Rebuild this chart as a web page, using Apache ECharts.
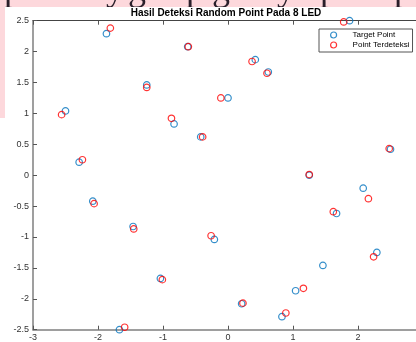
<!DOCTYPE html>
<html><head><meta charset="utf-8">
<script src="https://cdn.jsdelivr.net/npm/echarts@6/dist/echarts.min.js"></script>
<style>
html,body{margin:0;padding:0;background:#fff;overflow:hidden;width:416px;height:342px}
#chart{position:absolute;left:0;top:0;width:416px;height:342px;z-index:1}
.band{position:absolute;background:#fdd8dc}
#clip{position:absolute;left:0;top:0;width:416px;height:7px;overflow:hidden;z-index:2}
.glyph{position:absolute;top:-30px;font:36px/36px 'Liberation Serif',serif;color:#2a1f2a}
</style></head><body>
<div class="band" style="left:0;top:0;width:416px;height:7px"></div>
<div class="band" style="left:0;top:0;width:5px;height:118px"></div>
<div id="clip">
<span class="glyph" style="left:4px">p</span>
<span class="glyph" style="left:106px">y</span>
<span class="glyph" style="left:128px">g</span>
<span class="glyph" style="left:186px">p</span>
<span class="glyph" style="left:212px">g</span>
<span class="glyph" style="left:277px">y</span>
<span class="glyph" style="left:320px">p</span>
<span class="glyph" style="left:394px">p</span>
</div>
<div id="chart"></div>
<script>
const titleText = 'Hasil Deteksi Random Point Pada 8 LED';
const seriesNames = ['Target Point', 'Point Terdeteksi'];

const targetX = [-1.87, -0.62, -1.25, 0.00, -2.50, -0.83, -0.42, -2.29, 1.87, 0.42, 0.62, 2.50, 1.25, -2.08, -1.46, -0.21, -1.04, -1.67, 2.08, 1.67, 2.29, 1.46, 1.04, 0.21, 0.83];
const targetY = [2.29, 2.08, 1.46, 1.25, 1.04, 0.83, 0.62, 0.21, 2.50, 1.87, 1.67, 0.42, 0.00, -0.42, -0.83, -1.04, -1.67, -2.50, -0.21, -0.62, -1.25, -1.46, -1.87, -2.08, -2.29];

const detectX = [-1.81, -0.61, -1.25, -0.11, -2.56, -0.87, -0.39, -2.24, 1.78, 0.37, 0.60, 2.48, 1.25, -2.06, -1.45, -0.26, -1.01, -1.59, 2.16, 1.62, 2.24, 1.16, 0.23, 0.89];
const detectY = [2.38, 2.08, 1.42, 1.25, 0.98, 0.92, 0.62, 0.25, 2.48, 1.84, 1.65, 0.43, 0.01, -0.46, -0.87, -0.98, -1.69, -2.46, -0.38, -0.59, -1.32, -1.83, -2.07, -2.23];

const xTicks = {min: -3, max: 3, step: 1};
const yTicks = {min: -2.5, max: 2.5, step: 0.5};

const pairs = (xs, ys) => xs.map((x, i) => [x, ys[i]]);

const font = 'Liberation Sans';
const axisCommon = {
  splitLine: {show: false},
  axisTick: {inside: true, length: 4, lineStyle: {color: '#555', width: 1}},
};

const chart = echarts.init(document.getElementById('chart'), null, {renderer: 'canvas'});
chart.setOption({
  animation: false,
  title: {
    text: titleText, left: 226, top: 8, textAlign: 'center', padding: 0,
    textStyle: {fontSize: 10, fontWeight: 'bold', color: '#000', fontFamily: font}
  },
  legend: {
    data: seriesNames, orient: 'vertical', left: 319, top: 29,
    padding: [2, 3, 3, 11], itemWidth: 28, itemHeight: 6, itemGap: 2,
    backgroundColor: '#fff', borderColor: '#555', borderWidth: 1, borderRadius: 0,
    textStyle: {fontSize: 8, lineHeight: 8, color: '#000', fontFamily: font},
    itemStyle: {borderWidth: 1.2}
  },
  grid: {left: 33, top: 20.7, right: -7, bottom: 12.3, outerBoundsMode: 'none', containLabel: false},
  xAxis: [
    Object.assign({
      type: 'value', min: xTicks.min, max: xTicks.max, interval: xTicks.step, position: 'bottom',
      axisLine: {onZero: false, lineStyle: {color: '#7f7f7f', width: 1.5}},
      axisLabel: {fontSize: 9, color: '#333', margin: 3, fontFamily: font}
    }, axisCommon),
    Object.assign({
      type: 'value', min: xTicks.min, max: xTicks.max, interval: xTicks.step, position: 'top',
      axisLine: {onZero: false, lineStyle: {color: '#444', width: 1}},
      axisLabel: {show: false}
    }, axisCommon)
  ],
  yAxis: [
    Object.assign({
      type: 'value', min: yTicks.min, max: yTicks.max, interval: yTicks.step, position: 'left',
      axisLine: {onZero: false, lineStyle: {color: '#7f7f7f', width: 1.5}},
      axisLabel: {fontSize: 9, color: '#333', margin: 4, fontFamily: font}
    }, axisCommon)
  ],
  series: [
    {
      name: seriesNames[0], type: 'scatter', xAxisIndex: 0, yAxisIndex: 0, clip: false,
      symbol: 'circle', symbolSize: 6.5,
      itemStyle: {color: 'rgba(0,0,0,0)', borderColor: '#0072BD', borderWidth: 1.2},
      emphasis: {disabled: true},
      data: pairs(targetX, targetY)
    },
    {
      name: seriesNames[1], type: 'scatter', xAxisIndex: 0, yAxisIndex: 0, clip: false,
      symbol: 'circle', symbolSize: 6.5,
      itemStyle: {color: 'rgba(0,0,0,0)', borderColor: '#FF0000', borderWidth: 1.2},
      emphasis: {disabled: true},
      data: pairs(detectX, detectY)
    }
  ]
});
</script>
</body></html>
